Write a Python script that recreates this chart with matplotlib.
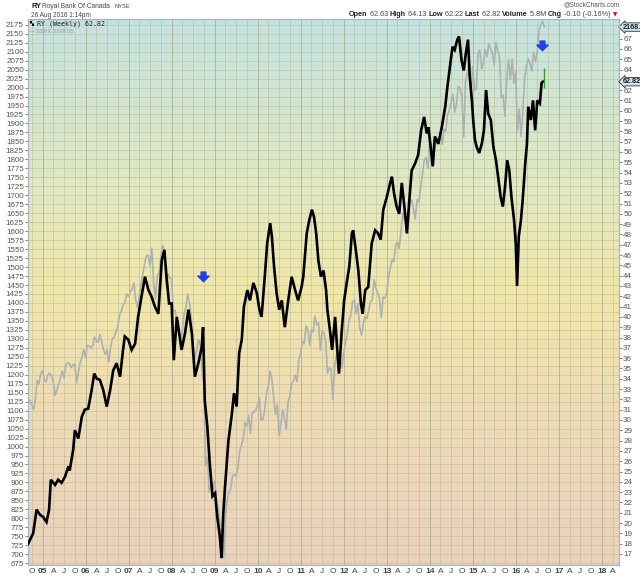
import matplotlib
matplotlib.use('Agg')
import matplotlib.pyplot as plt
import numpy as np
from matplotlib.path import Path
from matplotlib.colors import LinearSegmentedColormap

# ---------------- data ----------------
ry_t = [2004.665, 2004.78, 2004.86, 2004.94, 2005.01, 2005.09, 2005.15, 2005.19, 2005.29, 2005.36,
        2005.44, 2005.52, 2005.60, 2005.63, 2005.71, 2005.75, 2005.83, 2005.91, 2005.98, 2006.06,
        2006.14, 2006.20, 2006.26, 2006.33, 2006.41, 2006.49, 2006.57, 2006.64, 2006.72, 2006.80,
        2006.87, 2006.91, 2006.99, 2007.07, 2007.15, 2007.22, 2007.30, 2007.38, 2007.46, 2007.53,
        2007.61, 2007.69, 2007.77, 2007.83, 2007.88, 2007.94, 2008.00, 2008.05, 2008.12, 2008.23,
        2008.31, 2008.39, 2008.47, 2008.54, 2008.62, 2008.70, 2008.73, 2008.77, 2008.83, 2008.89,
        2008.95, 2009.01, 2009.06, 2009.12, 2009.16, 2009.20, 2009.24, 2009.32, 2009.40, 2009.45,
        2009.51, 2009.57, 2009.63, 2009.68, 2009.76, 2009.82, 2009.90, 2009.98, 2010.04, 2010.09,
        2010.17, 2010.22, 2010.29, 2010.33, 2010.38, 2010.44, 2010.50, 2010.56, 2010.63, 2010.71,
        2010.79, 2010.87, 2010.94, 2011.02, 2011.06, 2011.14, 2011.20, 2011.26, 2011.31, 2011.36,
        2011.41, 2011.47, 2011.53, 2011.59, 2011.62, 2011.68, 2011.73, 2011.80, 2011.84, 2011.89,
        2011.95, 2012.01, 2012.07, 2012.13, 2012.19, 2012.22, 2012.29, 2012.34, 2012.40, 2012.44,
        2012.50, 2012.57, 2012.65, 2012.73, 2012.80, 2012.86, 2012.92, 2013.00, 2013.08, 2013.12,
        2013.17, 2013.23, 2013.29, 2013.35, 2013.41, 2013.47, 2013.53, 2013.58, 2013.66, 2013.73,
        2013.80, 2013.87, 2013.93, 2013.97, 2014.02, 2014.07, 2014.12, 2014.20, 2014.28, 2014.36,
        2014.41, 2014.47, 2014.53, 2014.58, 2014.64, 2014.68, 2014.74, 2014.79, 2014.84, 2014.89,
        2014.93, 2014.98, 2015.01, 2015.05, 2015.09, 2015.15, 2015.21, 2015.26, 2015.31, 2015.36,
        2015.42, 2015.48, 2015.54, 2015.59, 2015.65, 2015.70, 2015.75, 2015.80, 2015.85, 2015.90,
        2015.96, 2016.00, 2016.03, 2016.07, 2016.12, 2016.16, 2016.22, 2016.26, 2016.29, 2016.35,
        2016.40, 2016.45, 2016.50, 2016.56, 2016.60, 2016.63]
ry_v = [18.0, 19.0, 21.3, 20.8, 20.6, 20.1, 21.3, 24.2, 23.7, 24.2,
        23.9, 24.5, 25.5, 25.1, 27.1, 29.0, 28.2, 30.3, 31.0, 31.1,
        32.9, 34.5, 34.0, 33.9, 32.9, 31.3, 32.9, 34.8, 35.5, 34.2,
        36.8, 38.1, 37.8, 36.8, 37.4, 40.0, 42.0, 43.9, 42.6, 42.0,
        41.0, 40.3, 45.5, 46.5, 43.9, 41.3, 41.3, 35.8, 40.0, 36.8,
        38.4, 40.7, 38.4, 34.2, 35.5, 37.1, 39.0, 31.9, 29.3, 25.5,
        22.6, 22.9, 20.6, 18.7, 16.6, 20.9, 23.5, 28.0, 30.6, 32.6,
        31.3, 36.5, 37.8, 41.0, 42.6, 41.6, 43.3, 42.3, 40.7, 40.0,
        44.2, 47.1, 49.1, 47.8, 44.9, 42.3, 40.7, 41.6, 39.0, 41.6,
        43.9, 42.6, 41.6, 42.9, 43.9, 48.1, 49.4, 50.4, 49.7, 48.1,
        45.5, 43.9, 44.5, 42.6, 40.7, 38.7, 36.8, 40.0, 37.4, 34.5,
        38.4, 41.6, 43.3, 44.9, 48.1, 48.4, 46.2, 44.5, 41.3, 40.3,
        42.6, 42.9, 47.1, 48.4, 48.1, 47.5, 50.4, 51.6, 53.0, 53.6,
        52.0, 50.7, 50.0, 53.0, 50.7, 48.1, 51.6, 54.2, 54.9, 55.7,
        58.1, 59.4, 57.8, 58.4, 56.5, 54.6, 57.5, 56.8, 58.4, 60.4,
        62.3, 64.3, 66.2, 65.9, 66.9, 67.2, 64.9, 63.9, 65.6, 66.9,
        63.3, 61.0, 59.1, 57.2, 56.5, 55.9, 56.8, 58.1, 62.0, 59.7,
        59.1, 56.5, 55.2, 53.6, 51.6, 50.7, 52.6, 55.2, 54.2, 51.6,
        49.4, 47.1, 43.0, 47.8, 49.4, 51.3, 54.9, 56.8, 60.4, 59.1,
        61.0, 58.1, 61.0, 60.7, 62.7, 62.82]

# $SPX, two readings per month (mid-month, month-end), Sep 2004 - Aug 2016
spx_start_year = 2004
spx_start_month = 9
spx_v = [1128, 1115, 1104, 1130, 1184, 1174, 1204, 1212,
         1185, 1181, 1200, 1204, 1197, 1181, 1142, 1157, 1174, 1192, 1210, 1191, 1227, 1234,
         1231, 1220, 1228, 1229, 1177, 1207, 1233, 1249, 1270, 1248,
         1282, 1280, 1275, 1281, 1305, 1295, 1290, 1311, 1292, 1270, 1256, 1270, 1236, 1277,
         1302, 1304, 1320, 1336, 1366, 1378, 1396, 1401, 1425, 1418,
         1431, 1438, 1456, 1407, 1387, 1421, 1452, 1482, 1512, 1531, 1533, 1503, 1553, 1455,
         1411, 1474, 1484, 1527, 1560, 1549, 1452, 1481, 1468, 1468,
         1373, 1379, 1349, 1331, 1288, 1323, 1370, 1386, 1425, 1400, 1360, 1280, 1245, 1267,
         1298, 1283, 1213, 1165, 946, 969, 873, 896, 880, 903,
         850, 826, 789, 735, 690, 798, 852, 873, 882, 919, 921, 919, 940, 987,
         1004, 1021, 1068, 1057, 1087, 1036, 1094, 1096, 1102, 1115,
         1136, 1074, 1075, 1104, 1150, 1169, 1210, 1187, 1135, 1089, 1117, 1031, 1065, 1102,
         1079, 1049, 1125, 1141, 1176, 1183, 1199, 1181, 1242, 1258,
         1293, 1286, 1336, 1327, 1281, 1326, 1319, 1364, 1338, 1345, 1268, 1321, 1316, 1292,
         1204, 1219, 1216, 1131, 1224, 1253, 1236, 1247, 1219, 1258,
         1289, 1312, 1351, 1366, 1404, 1408, 1370, 1398, 1330, 1310, 1343, 1362, 1357, 1379,
         1405, 1407, 1465, 1441, 1428, 1412, 1359, 1416, 1413, 1426,
         1472, 1498, 1520, 1515, 1560, 1569, 1552, 1598, 1650, 1631, 1639, 1606, 1680, 1686,
         1661, 1633, 1688, 1682, 1721, 1757, 1798, 1806, 1775, 1848,
         1845, 1783, 1838, 1859, 1841, 1872, 1842, 1884, 1878, 1924, 1937, 1960, 1981, 1931,
         1955, 2003, 1998, 1972, 1862, 2018, 2039, 2068, 1972, 2059,
         1993, 1995, 2096, 2105, 2053, 2068, 2106, 2086, 2122, 2107, 2097, 2063, 2126, 2104,
         2083, 1972, 1979, 1920, 2023, 2079, 2023, 2080, 2012, 2044,
         1880, 1940, 1864, 1932, 2027, 2060, 2080, 2065, 2047, 2097, 2072, 2099, 2162, 2174,
         2185, 2169]

ry_last = 62.82
ry_open, ry_high, ry_low = 62.63, 64.13, 62.22
spx_last = 2168.55

left_ticks = list(range(675, 2176, 25))
right_ticks = list(range(17, 68))
quarter_letters = {4: 'A', 7: 'J', 10: 'O'}

# ---------------- figure ----------------
W, H = 640, 576
SANS = ['Liberation Sans', 'DejaVu Sans']
fig = plt.figure(figsize=(W / 100, H / 100), dpi=100)
fig.patch.set_facecolor('white')
ax = fig.add_axes([28 / W, 11 / H, 591 / W, 546 / H])
ax2 = ax.twinx()

xmin, xmax = 2004.66, 2018.40
ylo, yhi = 670, 2191
rlo, rhi = 15.93, 68.9

# background gradient
stops = [(0.0, (0.765, 0.890, 0.882)),
         (0.30, (0.880, 0.910, 0.760)),
         (0.50, (0.945, 0.905, 0.660)),
         (0.72, (0.935, 0.860, 0.710)),
         (1.0, (0.920, 0.820, 0.740))]
cmap = LinearSegmentedColormap.from_list('bg', stops)
grad = np.linspace(0, 1, 256).reshape(-1, 1)
ax.imshow(grad, extent=[xmin, xmax, ylo, yhi], aspect='auto', cmap=cmap,
          zorder=0, interpolation='bilinear')

# SPX dates (mid-month and month-end)
spx_t = []
y, m = spx_start_year, spx_start_month
for i in range(len(spx_v)):
    half = i % 2
    spx_t.append(y + (m - 1) / 12 + (0.48 if half == 0 else 0.97) / 12)
    if half == 1:
        m += 1
        if m > 12:
            m = 1
            y += 1

ax.plot(spx_t, spx_v, color='#adb2b1', lw=1.2, zorder=3)
ax2.plot(ry_t, ry_v, color='black', lw=1.9, zorder=4, solid_joinstyle='miter')
ax2.vlines([ry_t[-1] + 0.015], [ry_low], [ry_high], color='#3a9a2a', lw=1.0, zorder=5)

# grid
grid_col = '#b9bc9c'
for v in left_ticks:
    ax.axhline(v, color=grid_col, lw=0.5, alpha=0.7, zorder=1)
xt, xl, xb = [], [], []
for yr in range(2004, 2019):
    for mo in (1, 4, 7, 10):
        t = yr + (mo - 1) / 12
        if t < xmin or t > xmax:
            continue
        xt.append(t)
        if mo == 1:
            xl.append('%02d' % (yr % 100))
            xb.append(True)
        else:
            xl.append(quarter_letters[mo])
            xb.append(False)
for t, b in zip(xt, xb):
    ax.axvline(t, color='#a9ad8c' if b else grid_col, lw=0.7 if b else 0.5,
               alpha=0.8, zorder=1)

ax.set_xlim(xmin, xmax)
ax.set_ylim(ylo, yhi)
ax2.set_ylim(rlo, rhi)

ax.minorticks_off()
ax2.minorticks_off()
ax.set_xticks(xt)
ax.set_xticklabels(xl)
for lab, b in zip(ax.get_xticklabels(), xb):
    lab.set_fontweight('bold' if b else 'normal')
    lab.set_family(SANS)
ax.tick_params(axis='x', which='both', length=0, pad=2, labelsize=6, colors='#444444')
ax.set_yticks(left_ticks)
ax.set_yticklabels([str(v) for v in left_ticks], family=SANS)
ax.tick_params(axis='y', length=2, width=0.5, pad=1, labelsize=5.8, colors='#555555')
ax2.set_yticks(right_ticks)
# the label under the last-value box is hidden, as on the reference
ax2.set_yticklabels(['' if abs(v - ry_last) < 0.6 else str(v) for v in right_ticks], family=SANS)
ax2.tick_params(axis='y', length=2, width=0.5, pad=1, labelsize=5.8, colors='#555555')
for a in (ax, ax2):
    for s in a.spines.values():
        s.set_color('#a8b4c0')
        s.set_linewidth(0.8)

# blue arrows
arrow = Path([(-0.32, 0.6), (0.32, 0.6), (0.32, 0.05), (0.75, 0.05), (0.0, -0.7),
              (-0.75, 0.05), (-0.32, 0.05), (-0.32, 0.6)],
             [Path.MOVETO] + [Path.LINETO] * 6 + [Path.CLOSEPOLY])
ax2.plot([2008.73], [44.0], marker=arrow, markersize=8, color='#1e40e6', zorder=6, ls='none')
ax2.plot([2016.62], [66.4], marker=arrow, markersize=8, color='#1e40e6', zorder=6, ls='none')

# right-side value boxes
ax.annotate('%.2f' % spx_last, xy=(1.0, spx_last), xycoords=('axes fraction', 'data'),
            xytext=(3, 0), textcoords='offset points', fontsize=5.2, color='#222222',
            va='center', ha='left', fontweight='bold', family=SANS, annotation_clip=False,
            zorder=10,
            bbox=dict(boxstyle='larrow,pad=0.1', fc='#cbe5ea', ec='#333333', lw=0.6))
ax2.annotate('%.2f' % ry_last, xy=(1.0, ry_last), xycoords=('axes fraction', 'data'),
             xytext=(3, 0), textcoords='offset points', fontsize=5.2, color='#222222',
             va='center', ha='left', fontweight='bold', family=SANS, annotation_clip=False,
             zorder=10,
             bbox=dict(boxstyle='larrow,pad=0.1', fc='#cbe5ea', ec='#333333', lw=0.6))


def P(x, y):
    return x / W, 1 - y / H


fig.canvas.draw()
R = fig.canvas.get_renderer()


def fit_text(x, y, s, width, size0=6.0, ha='left', **kw):
    t = fig.text(*P(x, y), s, fontsize=size0, va='center', ha=ha, **kw)
    w = t.get_window_extent(renderer=R).width
    t.set_fontsize(size0 * width / w)
    return t


# in-plot legend
fit_text(29, 23.5, '\u259A', 4, color='black')
fit_text(37, 23.5, 'RY (Weekly) %.2f' % ry_last, 68, color='#222222', family='DejaVu Sans Mono')
fit_text(29, 31, '\u2014 $SPX %.2f' % spx_last, 45, color='#9aa0a0', family=SANS)

# header
fit_text(31, 6.5, 'RY', 10, fontweight='bold', color='#222222', family=SANS)
fit_text(42.5, 6.5, 'Royal Bank Of Canada', 69, color='#444444', family=SANS)
fit_text(114.5, 7, 'NYSE', 15.5, color='#444444', family=SANS)
fit_text(31, 15.5, '26 Aug 2016 1:14pm', 61, color='#444444', family=SANS)
fit_text(620, 5, '@StockCharts.com', 57, ha='right', color='#555555', family=SANS)

pieces = [('Open', True), (' %.2f ' % ry_open, False), ('High', True), (' %.2f ' % ry_high, False),
          ('Low', True), (' %.2f ' % ry_low, False), ('Last', True), (' %.2f ' % ry_last, False),
          ('Volume', True), (' 5.8M ', False), ('Chg', True), (' -0.10 (-0.16%)', False)]
# measure total width at a trial size, then scale to fit 349..613
trial = 6.0
tot = 0.0
for txt, bold in pieces:
    t = fig.text(0, 0, txt, fontsize=trial, fontweight='bold' if bold else 'normal', family=SANS)
    tot += t.get_window_extent(renderer=R).width
    t.remove()
size = trial * (613 - 349) / tot
x0 = 349.0
for txt, bold in pieces:
    t = fig.text(*P(x0, 14.5), txt, fontsize=size, fontweight='bold' if bold else 'normal',
                 color='#222222' if bold else '#444444', va='center', ha='left', family=SANS)
    x0 += t.get_window_extent(renderer=R).width
fig.text(*P(x0 + 2, 14.5), '\u25BC', fontsize=4.0, color='#cc1111', va='center', ha='left')

fig.savefig('out.png', dpi=100, facecolor='white')
